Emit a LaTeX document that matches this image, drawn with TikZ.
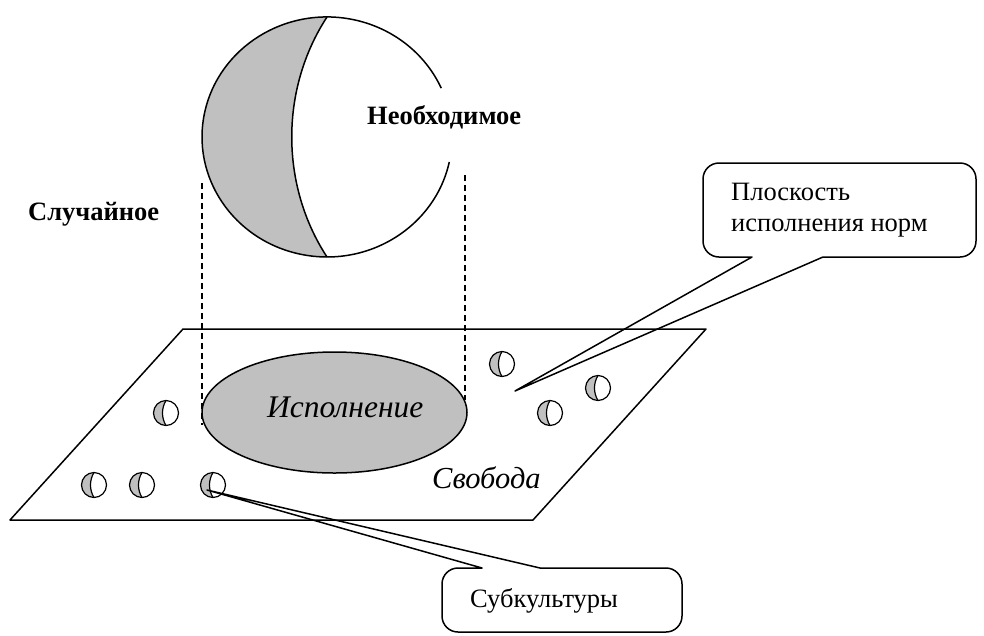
\documentclass[tikz,border=0pt]{standalone}
\usepackage{fontspec}
\setmainfont{Liberation Serif}
\usetikzlibrary{shapes.geometric}
\definecolor{moongray}{HTML}{C0C0C0}
\tikzset{
  outline/.style={line width=1.5pt, line join=round},
  guide/.style={line width=1.1pt, dash pattern=on 6pt off 4pt},
  label/.style={inner sep=0pt, anchor=base west},
  heading/.style={label, font=\bfseries\fontsize{26.5}{30}\selectfont},
  note/.style={label, font=\fontsize{26.5}{30}\selectfont},
  slanted/.style={label, font=\itshape\fontsize{31.5}{36}\selectfont},
  pics/moon/.style={code={
    \fill[moongray] (0,-1) arc[start angle=270, end angle=90, radius=1]
      .. controls (-0.375,0.4) and (-0.375,-0.4) .. (0,-1);
    \draw[line width=1.2pt] (0,0) circle[radius=1];
    \draw[line width=1.2pt] (0,1) .. controls (-0.375,0.4) and (-0.375,-0.4) .. (0,-1);
  }},
}
\begin{document}
\begin{tikzpicture}[x=1pt, y=-1pt]
\useasboundingbox (0,0) rectangle (984,635);

% the sphere: shaded crescent, open on the right
\fill[moongray] (327,17) arc[start angle=270, end angle=90, x radius=125, y radius=120]
  .. controls (280,185) and (280,89) .. (327,17);
\draw[outline] (449.3,161.9) arc[start angle=12, end angle=336, x radius=125, y radius=120];
\draw[outline] (327,257) .. controls (280,185) and (280,89) .. (327,17);

\node[heading] (need) at (367,124) {Необходимое};
\node[heading] (chance) at (28,220) {Случайное};

% the plane
\coordinate (p1) at (183,329);
\coordinate (p2) at (706,329);
\coordinate (p3) at (533,520);
\coordinate (p4) at (10,520);
\draw[outline] (p1) -- (p2) -- (p3) -- (p4) -- cycle;

\node[ellipse, draw, line width=1.5pt, fill=moongray, minimum width=265pt,
      minimum height=121pt, inner sep=0pt] (core) at (334.5,412.5) {};
\node[slanted] (coretext) at (267,417) {Исполнение};
\node[slanted, font=\itshape\fontsize{30.5}{36}\selectfont] (freedom) at (432,488) {Свобода};

% projection lines
\coordinate (gl1) at (202,183);
\coordinate (gl2) at (202,425);
\coordinate (gr1) at (465,175);
\coordinate (gr2) at (465,400);
\draw[guide] (gl1) -- (gl2);
\draw[guide] (gr1) -- (gr2);

% subcultures
\foreach \x/\y in {166/413, 94/485, 142/485, 213/485, 502/364, 550/413, 598/388}
  \pic[xscale=12.5, yscale=12.5] at (\x,\y) {moon};

% callout: plane of norms
\coordinate (tipA) at (515,391);
\coordinate (baseA1) at (752,257);
\coordinate (baseA2) at (823,257);
\draw[outline] (baseA1) -- (719,257) arc[start angle=90, end angle=180, radius=16]
  -- (703,179) arc[start angle=180, end angle=270, radius=16]
  -- (960,163) arc[start angle=270, end angle=360, radius=16]
  -- (976,241) arc[start angle=0, end angle=90, radius=16]
  -- (baseA2) -- (tipA) -- cycle;
\node[note] (norm1) at (731,200) {Плоскость};
\node[note] (norm2) at (731,231) {исполнения норм};

% callout: subcultures
\coordinate (tipB) at (207,490);
\coordinate (baseB1) at (482,568);
\coordinate (baseB2) at (540,568);
\draw[outline] (baseB1) -- (458,568) arc[start angle=270, end angle=180, radius=16]
  -- (442,616) arc[start angle=180, end angle=90, radius=16]
  -- (666,632) arc[start angle=90, end angle=0, radius=16]
  -- (682,584) arc[start angle=360, end angle=270, radius=16]
  -- (baseB2) -- (tipB) -- cycle;
\node[note] (sub) at (470,607) {Субкультуры};
\end{tikzpicture}
\end{document}
